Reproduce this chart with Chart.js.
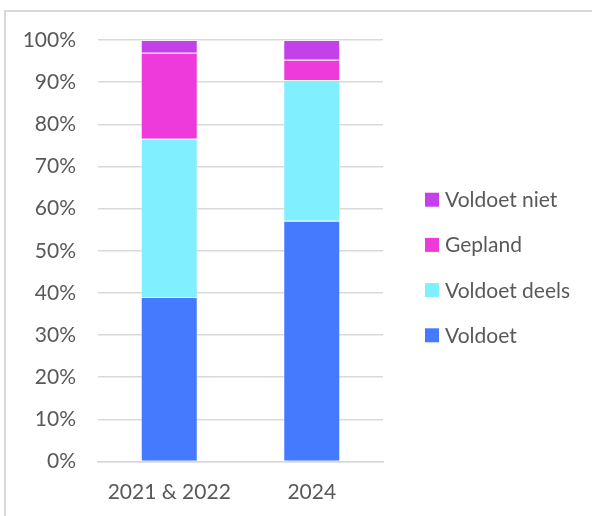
<!DOCTYPE html>
<html>
<head>
<meta charset="utf-8">
<script src="https://cdn.jsdelivr.net/npm/chart.js@4/dist/chart.umd.min.js"></script>
<style>
  html, body { margin: 0; padding: 0; background: #ffffff; }
  #wrap { position: relative; width: 592px; height: 516px; overflow: hidden; }
  #frame { position: absolute; left: 4px; top: 10px; width: 620px; height: 540px;
           border-left: 2px solid #d9d9d9; border-top: 2px solid #d9d9d9; box-sizing: border-box; }
  #c { position: absolute; left: 0; top: 0; }
</style>
</head>
<body>
<div id="wrap">
  <div id="frame"></div>
  <canvas id="c" width="592" height="516"></canvas>
</div>
<script>
// ---- data ----
const categories = ['2021 & 2022', '2024'];
const voldoet = [39.0, 57.1];
const voldoetDeels = [37.6, 33.4];
const gepland = [20.4, 4.8];
const voldoetNiet = [3.0, 4.7];
const yTicks = [0, 10, 20, 30, 40, 50, 60, 70, 80, 90, 100];

// ---- style ----
const FONT_FAMILY = 'Lato, "Liberation Sans", sans-serif';
const FONT_SIZE = 21;
const TEXT_COLOR = '#595959';
const GRID_COLOR = '#d9d9d9';

// layout targets
const plotLeft = 98, plotRight = 383, plotTop = 40, plotBottom = 461.5;
const legendBoxX = 425;
const legendFirstY = 199.7;
const legendRowGap = 45.2;
const boxSize = 14;

const font = { family: FONT_FAMILY, size: FONT_SIZE };

// legend drawn beside the plot, from the datasets (top entry = last series)
const sideLegend = {
  id: 'sideLegend',
  afterDraw(chart) {
    const ctx = chart.ctx;
    ctx.save();
    ctx.font = FONT_SIZE + 'px ' + FONT_FAMILY;
    ctx.textBaseline = 'alphabetic';
    ctx.textAlign = 'left';
    const items = chart.data.datasets.slice().reverse();
    items.forEach((d, i) => {
      const cy = legendFirstY + i * legendRowGap;
      ctx.fillStyle = d.backgroundColor;
      ctx.fillRect(legendBoxX, cy - boxSize / 2, boxSize, boxSize);
      ctx.fillStyle = TEXT_COLOR;
      ctx.fillText(d.label, legendBoxX + boxSize + 6, cy + 7.4);
    });
    ctx.restore();
  }
};

new Chart(document.getElementById('c'), {
  type: 'bar',
  data: {
    labels: categories,
    datasets: [
      { label: 'Voldoet', data: voldoet, backgroundColor: '#457aff' },
      { label: 'Voldoet deels', data: voldoetDeels, backgroundColor: '#80efff' },
      { label: 'Gepland', data: gepland, backgroundColor: '#ee3adb' },
      { label: 'Voldoet niet', data: voldoetNiet, backgroundColor: '#c441e9' }
    ].map(d => Object.assign(d, {
      borderColor: 'rgba(255,255,255,0.3)', borderWidth: 1,
      categoryPercentage: 0.8, barPercentage: 0.5
    }))
  },
  plugins: [sideLegend],
  options: {
    responsive: false,
    animation: false,
    layout: { padding: { left: 0, right: 592 - plotRight, top: plotTop, bottom: 0 } },
    plugins: {
      legend: { display: false },
      tooltip: { enabled: false }
    },
    scales: {
      x: {
        stacked: true,
        grid: { display: false, drawTicks: false },
        border: { display: true, color: GRID_COLOR, width: 1.5 },
        ticks: { font: font, color: TEXT_COLOR, padding: 18, maxRotation: 0 },
        afterFit: s => { s.height = 516 - plotBottom; }
      },
      y: {
        stacked: true,
        min: 0, max: 100,
        afterBuildTicks: s => { s.ticks = yTicks.map(v => ({ value: v })); },
        grid: { color: GRID_COLOR, lineWidth: 1.5, drawTicks: false },
        border: { display: false },
        ticks: { font: font, color: TEXT_COLOR, padding: 22, callback: v => v + '%' },
        afterFit: s => { s.width = plotLeft; }
      }
    }
  }
});
</script>
</body>
</html>
